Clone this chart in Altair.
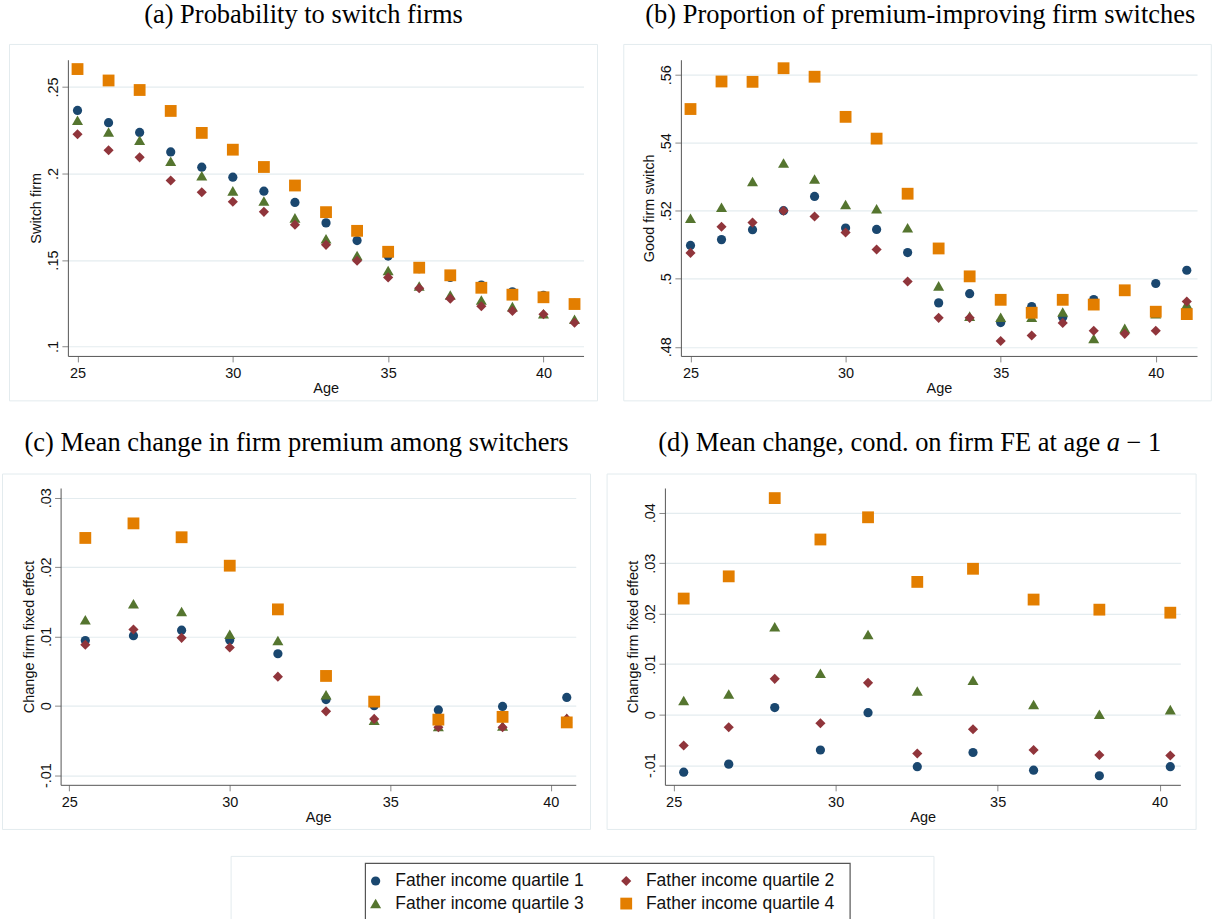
import altair as alt
import pandas as pd

GROUPS = ["Father income quartile 1", "Father income quartile 2",
          "Father income quartile 3", "Father income quartile 4"]
COLORS = ["#1a476f", "#90353b", "#55752f", "#e37e00"]
SHAPES = ["circle", "diamond", "triangle-up", "square"]
SIZES = [85, 140, 100, 76]
DRAW_ORDER = [0, 2, 1, 3]

SANS = "Liberation Sans"
SERIF = "Liberation Serif"

# (a) Probability to switch firms
ages_a = list(range(25, 42))
switch_q1 = [0.2365, 0.2294, 0.2238, 0.2125, 0.2037, 0.1979, 0.1898, 0.1833, 0.1715,
             0.1613, 0.1523, 0.1450, 0.1400, 0.1356, 0.1317, 0.1296, 0.1250]
switch_q2 = [0.2227, 0.2135, 0.2094, 0.1960, 0.1892, 0.1837, 0.1779, 0.1704, 0.1588,
             0.1496, 0.1400, 0.1337, 0.1277, 0.1233, 0.1206, 0.1187, 0.1138]
switch_q3 = [0.2308, 0.2240, 0.2192, 0.2071, 0.1988, 0.1900, 0.1842, 0.1744, 0.1623,
             0.1527, 0.1440, 0.1350, 0.1298, 0.1269, 0.1231, 0.1190, 0.1158]
switch_q4 = [0.2604, 0.2538, 0.2483, 0.2362, 0.2235, 0.2138, 0.2038, 0.1931, 0.1777,
             0.1669, 0.1548, 0.1456, 0.1412, 0.1340, 0.1300, 0.1285, 0.1246]

# (b) Proportion of premium-improving firm switches
ages_b = list(range(25, 42))
good_q1 = [0.5098, 0.5115, 0.5144, 0.5200, 0.5242, 0.5149, 0.5145, 0.5077, 0.4929,
           0.4956, 0.4871, 0.4918, 0.4887, 0.4939, 0.4966, 0.4986, 0.5025]
good_q2 = [0.5076, 0.5153, 0.5165, 0.5200, 0.5183, 0.5136, 0.5086, 0.4992, 0.4885,
           0.4885, 0.4817, 0.4833, 0.4870, 0.4847, 0.4838, 0.4847, 0.4933]
good_q3 = [0.5178, 0.5210, 0.5286, 0.5340, 0.5293, 0.5218, 0.5206, 0.5150, 0.4979,
           0.4890, 0.4887, 0.4887, 0.4902, 0.4824, 0.4854, 0.4897, 0.4925]
good_q4 = [0.5499, 0.5580, 0.5579, 0.5619, 0.5594, 0.5476, 0.5412, 0.5250, 0.5089,
           0.5007, 0.4938, 0.4900, 0.4938, 0.4924, 0.4966, 0.4903, 0.4896]

# (c) Mean change in firm premium among switchers
ages_c = [25.5, 27, 28.5, 30, 31.5, 33, 34.5, 36.5, 38.5, 40.5]
chg_q1 = [0.0094, 0.0101, 0.0109, 0.0095, 0.0075, 0.0009, 0.0000, -0.0006, -0.0001, 0.0012]
chg_q2 = [0.0088, 0.0110, 0.0098, 0.0084, 0.0042, -0.0008, -0.0019, -0.0031, -0.0031, -0.0019]
chg_q3 = [0.0124, 0.0147, 0.0136, 0.0103, 0.0094, 0.0016, -0.0021, -0.0030, -0.0029, -0.0018]
chg_q4 = [0.0242, 0.0263, 0.0243, 0.0202, 0.0139, 0.0043, 0.0006, -0.0020, -0.0016, -0.0024]

# (d) Mean change, conditional on firm FE at age a-1
ages_d = [25.31, 26.70, 28.12, 29.53, 31.0, 32.52, 34.24, 36.11, 38.14, 40.33]
cond_q1 = [-0.0114, -0.0098, 0.0014, -0.0070, 0.0004, -0.0103, -0.0075, -0.0110, -0.0121, -0.0103]
cond_q2 = [-0.0061, -0.0025, 0.0071, -0.0017, 0.0063, -0.0077, -0.0029, -0.0070, -0.0080, -0.0081]
cond_q3 = [0.0028, 0.0041, 0.0174, 0.0082, 0.0159, 0.0047, 0.0068, 0.0020, 0.0001, 0.0010]
cond_q4 = [0.0230, 0.0274, 0.0429, 0.0347, 0.0391, 0.0263, 0.0289, 0.0228, 0.0208, 0.0202]

age_ticks = [25, 30, 35, 40]

GRID = "#e4ecef"
FRAME = "#e3ebee"
TITLE_SIZE = 26.5
ROW_ORIGIN_X = 67.5  # every row of the layout shares this left origin

color_scale = alt.Scale(domain=GROUPS, range=COLORS)
shape_scale = alt.Scale(domain=GROUPS, range=SHAPES)
size_scale = alt.Scale(domain=GROUPS, range=SIZES)


def long_frame(ages, series):
    rows = []
    for g in DRAW_ORDER:
        for a, v in zip(ages, series[g]):
            rows.append({"age": a, "value": v, "group": GROUPS[g]})
    return pd.DataFrame(rows)


ONE = pd.DataFrame({"k": [0]})


def box(b, ox, oy, **kw):
    return alt.Chart(ONE).mark_rect(**kw).encode(
        x=alt.value(b[0] - ox), x2=alt.value(b[2] - ox),
        y=alt.value(b[1] - oy), y2=alt.value(b[3] - oy),
    )


def label(text, x, y, ox, oy, align="center", style="normal"):
    return alt.Chart(ONE).mark_text(
        text=text, font=SERIF, fontSize=TITLE_SIZE, color="#000", fontStyle=style,
        align=align, baseline="alphabetic",
    ).encode(x=alt.value(x - ox), y=alt.value(y - oy))


def panel(df, xdom, ydom, yticks, ytitle, title_layers, plot, border, anchor, origin_x=None):
    # plot = (left, top, width, height) of the plotting area on the page;
    # border / anchor = (x1, y1, x2, y2) page boxes, turned into offsets.
    # origin_x: page x of the view origin when it differs from the y-axis position.
    px, py, w, h = plot
    ox = px if origin_x is None else origin_x
    shift = px - ox
    r0, r1 = shift, shift + w

    anchor_layer = box(anchor, ox, py, fill="white", fillOpacity=0, strokeOpacity=0)
    border_layer = box(border, ox, py, fill="white", fillOpacity=0, stroke=FRAME, strokeWidth=1)

    x_axis = alt.Axis(
        values=age_ticks, title="Age", grid=False,
        labelFont=SANS, labelFontSize=14.5, labelColor="#111",
        labelBaseline="alphabetic", labelPadding=16, labelFlush=False,
        titleFont=SANS, titleFontSize=14.5, titleFontWeight="normal", titleColor="#111",
        titleX=(r0 + r1) / 2, titleY=37, titleBaseline="alphabetic", titleAlign="center",
        domainColor="#555", tickColor="#888", tickSize=6,
    )
    y_axis = alt.Axis(
        values=yticks, title=ytitle, grid=True, gridColor=GRID, gridWidth=1.2,
        offset=-shift,
        labelExpr="replace(toString(datum.value), '0.', '.')",
        labelAngle=270, labelAlign="center", labelBaseline="alphabetic",
        labelFont=SANS, labelFontSize=14.5, labelColor="#111",
        labelPadding=4.5, labelFlush=False, labelOverlap=False,
        titleFont=SANS, titleFontSize=14.5, titleFontWeight="normal", titleColor="#111",
        titleAngle=270, titleX=-27, titleY=h / 2, titleBaseline="alphabetic", titleAlign="center",
        domainColor="#555", tickColor="#888", tickSize=6,
    )
    pts = alt.Chart(df).mark_point(filled=True, opacity=1, strokeWidth=0).encode(
        x=alt.X("age:Q", scale=alt.Scale(domain=xdom, range=[r0, r1], nice=False, zero=False),
                axis=x_axis),
        y=alt.Y("value:Q", scale=alt.Scale(domain=ydom, nice=False, zero=False), axis=y_axis),
        color=alt.Color("group:N", scale=color_scale, legend=None),
        shape=alt.Shape("group:N", scale=shape_scale, legend=None),
        size=alt.Size("group:N", scale=size_scale, legend=None),
    )
    titles = [t(ox, py) for t in title_layers]
    return alt.layer(anchor_layer, border_layer, *titles, pts).properties(width=r1, height=h)


def centered(text, x, y):
    return lambda ox, oy: label(text, x, y, ox, oy)


# title of panel (d): roman text, italic "a", roman " − 1"
d_center, d_base = 910, 449
d_left = d_center - 19.032 * TITLE_SIZE / 2
d_break = d_left + 16.968 * TITLE_SIZE
d_title = [
    lambda ox, oy: label("(d) Mean change, cond. on firm FE at age", d_break - 0.25 * TITLE_SIZE,
                         d_base, ox, oy, align="right"),
    lambda ox, oy: label("a", d_break, d_base, ox, oy, align="left", style="italic"),
    lambda ox, oy: label("\u2212 1", d_break + 0.75 * TITLE_SIZE, d_base, ox, oy, align="left"),
]

pa = panel(long_frame(ages_a, [switch_q1, switch_q2, switch_q3, switch_q4]),
           [24.69, 41.29], [0.0946, 0.2658], [0.1, 0.15, 0.2, 0.25], "Switch firm",
           [centered("(a) Probability to switch firms", 303.5, 22)],
           (67.5, 58.3, 516.5, 296.7), (9, 43, 598, 400), (0, 0, 599, 400))
pb = panel(long_frame(ages_b, [good_q1, good_q2, good_q3, good_q4]),
           [24.69, 41.33], [0.4773, 0.5644], [0.48, 0.5, 0.52, 0.54, 0.56], "Good firm switch",
           [centered("(b) Proportion of premium-improving firm switches", 920, 22)],
           (680.2, 58.3, 517, 296.7), (623, 43, 1211.5, 400), (599, 0, 1212, 400))
pc = panel(long_frame(ages_c, [chg_q1, chg_q2, chg_q3, chg_q4]),
           [24.73, 40.78], [-0.0114, 0.0314], [-0.01, 0, 0.01, 0.02, 0.03], "Change firm fixed effect",
           [centered("(c) Mean change in firm premium among switchers", 296.5, 449)],
           (60.2, 486, 516, 297.3), (2, 472, 591, 828), (0, 400, 592, 830),
           origin_x=ROW_ORIGIN_X)
pd_ = panel(long_frame(ages_d, [cond_q1, cond_q2, cond_q3, cond_q4]),
            [24.73, 40.64], [-0.0139, 0.0449], [-0.01, 0, 0.01, 0.02, 0.03, 0.04], "Change firm fixed effect",
            d_title,
            (664.9, 486, 516.3, 297.3), (607, 472, 1197, 828), (592, 400, 1212, 830))

# bottom strip: legend frames and the legend itself
SX, SY = ROW_ORIGIN_X, 830
legend = alt.Legend(
    orient="none", legendX=367 - SX, legendY=870.5 - SY, direction="horizontal", columns=2,
    title=None, labelFont=SANS, labelFontSize=17.5, labelColor="#111", labelLimit=400,
    labelOffset=11, columnPadding=33, rowPadding=4, padding=0,
    symbolStrokeWidth=0, symbolOpacity=1,
)
key_df = pd.DataFrame({"group": GROUPS})
key = alt.Chart(key_df).mark_point(filled=True, opacity=0).encode(
    x=alt.value(500), y=alt.value(60),
    color=alt.Color("group:N", scale=color_scale, legend=legend),
    shape=alt.Shape("group:N", scale=shape_scale, legend=legend),
    size=alt.Size("group:N", scale=size_scale, legend=legend),
)
legend_strip = alt.layer(
    box((0, SY, 1212, 960), SX, SY, fill="white", fillOpacity=0, strokeOpacity=0),
    box((231, 855, 935, 990), SX, SY, fill="white", fillOpacity=0, stroke=FRAME, strokeWidth=1),
    box((365.5, 862, 851, 990), SX, SY, fill="white", fillOpacity=0, stroke="#555", strokeWidth=1.2),
    key,
).properties(width=1212 - SX, height=130)

chart = alt.concat(
    alt.hconcat(pa, pb, spacing=0),
    alt.hconcat(pc, pd_, spacing=0),
    legend_strip,
    columns=1, spacing=0, align="none", bounds="full",
).resolve_scale(
    color="independent", shape="independent", size="independent"
).properties(padding=0, background="white").configure_view(stroke=None)

chart.save("out.html", embed_options={"renderer": "svg", "actions": False})
